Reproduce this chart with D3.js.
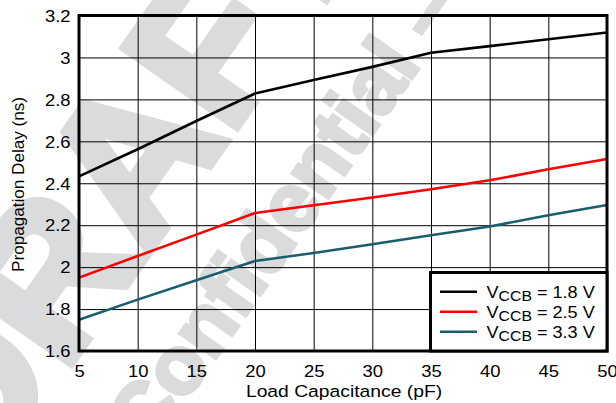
<!DOCTYPE html>
<html>
<head>
<meta charset="utf-8">
<script src="https://cdn.jsdelivr.net/npm/d3@7"></script>
<style>
  body { margin: 0; background: #fff; }
  svg { display: block; }
  text { font-family: "Liberation Sans", Arial, Helvetica, sans-serif; fill: #000; }
</style>
</head>
<body>
<svg id="chart" width="616" height="403"></svg>
<script>
// Propagation delay vs load capacitance for three VCCB supply levels
const loadCap = [5, 10, 15, 20, 25, 30, 35, 40, 45, 50];
const delayVccb18 = [2.433, 2.562, 2.697, 2.828, 2.892, 2.955, 3.022, 3.054, 3.087, 3.119];
const delayVccb25 = [1.950, 2.053, 2.155, 2.258, 2.295, 2.332, 2.371, 2.414, 2.467, 2.516];
const delayVccb33 = [1.749, 1.845, 1.937, 2.029, 2.067, 2.109, 2.152, 2.194, 2.247, 2.296];
const seriesLabels = ["1.8 V", "2.5 V", "3.3 V"];
const seriesColors = ["#000000", "#ff0000", "#1a5e6e"];
const xTickValues = [5, 10, 15, 20, 25, 30, 35, 40, 45, 50];
const yTickValues = [1.6, 1.8, 2.0, 2.2, 2.4, 2.6, 2.8, 3.0, 3.2];
const xTitle = "Load Capacitance (pF)";
const yTitle = "Propagation Delay (ns)";
const watermarkWords = ["DRAFT", "Confidential \u2013"];

const series = [delayVccb18, delayVccb25, delayVccb33].map((vals, i) => ({
  label: seriesLabels[i],
  color: seriesColors[i],
  points: loadCap.map((c, j) => ({ c, v: vals[j] }))
}));

const svg = d3.select("#chart");
const plot = { left: 79, right: 607, top: 15.5, bottom: 351 };
const stretch = 1.15; // the typeface runs slightly wide

const x = d3.scaleLinear().domain([5, 50]).range([plot.left, plot.right]);
const y = d3.scaleLinear().domain([1.6, 3.2]).range([plot.bottom, plot.top]);

// faint background watermark
const wmColor = "#dadbdd";
const wm = svg.append("g").style("font-weight", "bold");
wm.append("text")
  .attr("transform", "translate(118,175) rotate(-55)")
  .attr("text-anchor", "middle").attr("dominant-baseline", "central")
  .style("font-size", "200px").style("fill", wmColor)
  .attr("stroke", wmColor).attr("stroke-width", 9).attr("stroke-linejoin", "miter")
  .text(watermarkWords[0]);
wm.append("text")
  .attr("transform", "translate(282,214) rotate(-55)")
  .attr("text-anchor", "middle").attr("dominant-baseline", "central")
  .style("font-size", "82px").style("fill", wmColor)
  .attr("stroke", wmColor).attr("stroke-width", 4)
  .text(watermarkWords[1]);

// grid lines
svg.append("g")
  .attr("transform", `translate(0,${plot.bottom})`)
  .call(d3.axisBottom(x).tickValues(xTickValues).tickSize(-(plot.bottom - plot.top)).tickFormat(""))
  .call(g => g.select(".domain").remove())
  .call(g => g.selectAll("line").attr("stroke", "#000").attr("stroke-width", 1));
svg.append("g")
  .attr("transform", `translate(${plot.left},0)`)
  .call(d3.axisLeft(y).tickValues(yTickValues).tickSize(-(plot.right - plot.left)).tickFormat(""))
  .call(g => g.select(".domain").remove())
  .call(g => g.selectAll("line").attr("stroke", "#000").attr("stroke-width", 1));

// tick labels
svg.append("g")
  .attr("transform", `translate(0,${plot.bottom})`)
  .call(d3.axisBottom(x).tickValues(xTickValues).tickSize(0).tickPadding(0).tickFormat(d3.format("d")))
  .call(g => g.select(".domain").remove())
  .call(g => g.selectAll("text")
    .attr("y", 26.5).attr("dy", null)
    .attr("transform", `scale(${stretch},1)`)
    .style("font-size", "16px").attr("font-family", null));
svg.append("g")
  .attr("transform", `translate(${plot.left},0)`)
  .call(d3.axisLeft(y).tickValues(yTickValues).tickSize(0).tickPadding(0).tickFormat(d => String(+d.toFixed(1))))
  .call(g => g.select(".domain").remove())
  .call(g => g.selectAll("text")
    .attr("x", -8.5 / stretch).attr("dy", "0.36em")
    .attr("transform", `scale(${stretch},1)`)
    .style("font-size", "16px").attr("font-family", null));

// data lines
const line = d3.line().x(d => x(d.c)).y(d => y(d.v));
svg.append("g").selectAll("path").data(series).join("path")
  .attr("d", d => line(d.points))
  .attr("fill", "none")
  .attr("stroke", d => d.color)
  .attr("stroke-width", 2.6)
  .attr("stroke-linejoin", "round");

// plot frame
svg.append("rect")
  .attr("x", plot.left).attr("y", plot.top)
  .attr("width", plot.right - plot.left).attr("height", plot.bottom - plot.top)
  .attr("fill", "none").attr("stroke", "#000").attr("stroke-width", 3);

// axis titles
svg.append("text")
  .attr("transform", `translate(344,396.5) scale(${stretch + 0.02},1)`)
  .attr("text-anchor", "middle")
  .style("font-size", "16.5px")
  .text(xTitle);
svg.append("text")
  .attr("transform", "translate(24,184.5) rotate(-90) scale(1.07,1)")
  .attr("text-anchor", "middle")
  .style("font-size", "16px")
  .text(yTitle);

// legend
const legend = svg.append("g");
legend.append("rect")
  .attr("x", 430.5).attr("y", 272.5)
  .attr("width", plot.right - 430.5).attr("height", plot.bottom - 272.5)
  .attr("fill", "#fff").attr("stroke", "#000").attr("stroke-width", 3);
const entry = legend.selectAll("g.entry").data(series).join("g")
  .attr("class", "entry")
  .attr("transform", (d, i) => `translate(0,${291.7 + i * 20})`);
entry.append("line")
  .attr("x1", 440).attr("x2", 477)
  .attr("stroke", d => d.color).attr("stroke-width", 2.6);
const lt = entry.append("text")
  .attr("transform", `translate(486.5,6.6) scale(${stretch - 0.02},1)`)
  .style("font-size", "16px");
lt.append("tspan").text("V");
lt.append("tspan").attr("dy", 3).style("font-size", "14px").text("CCB");
lt.append("tspan").attr("dy", -3).text(d => " = " + d.label);
</script>
</body>
</html>
